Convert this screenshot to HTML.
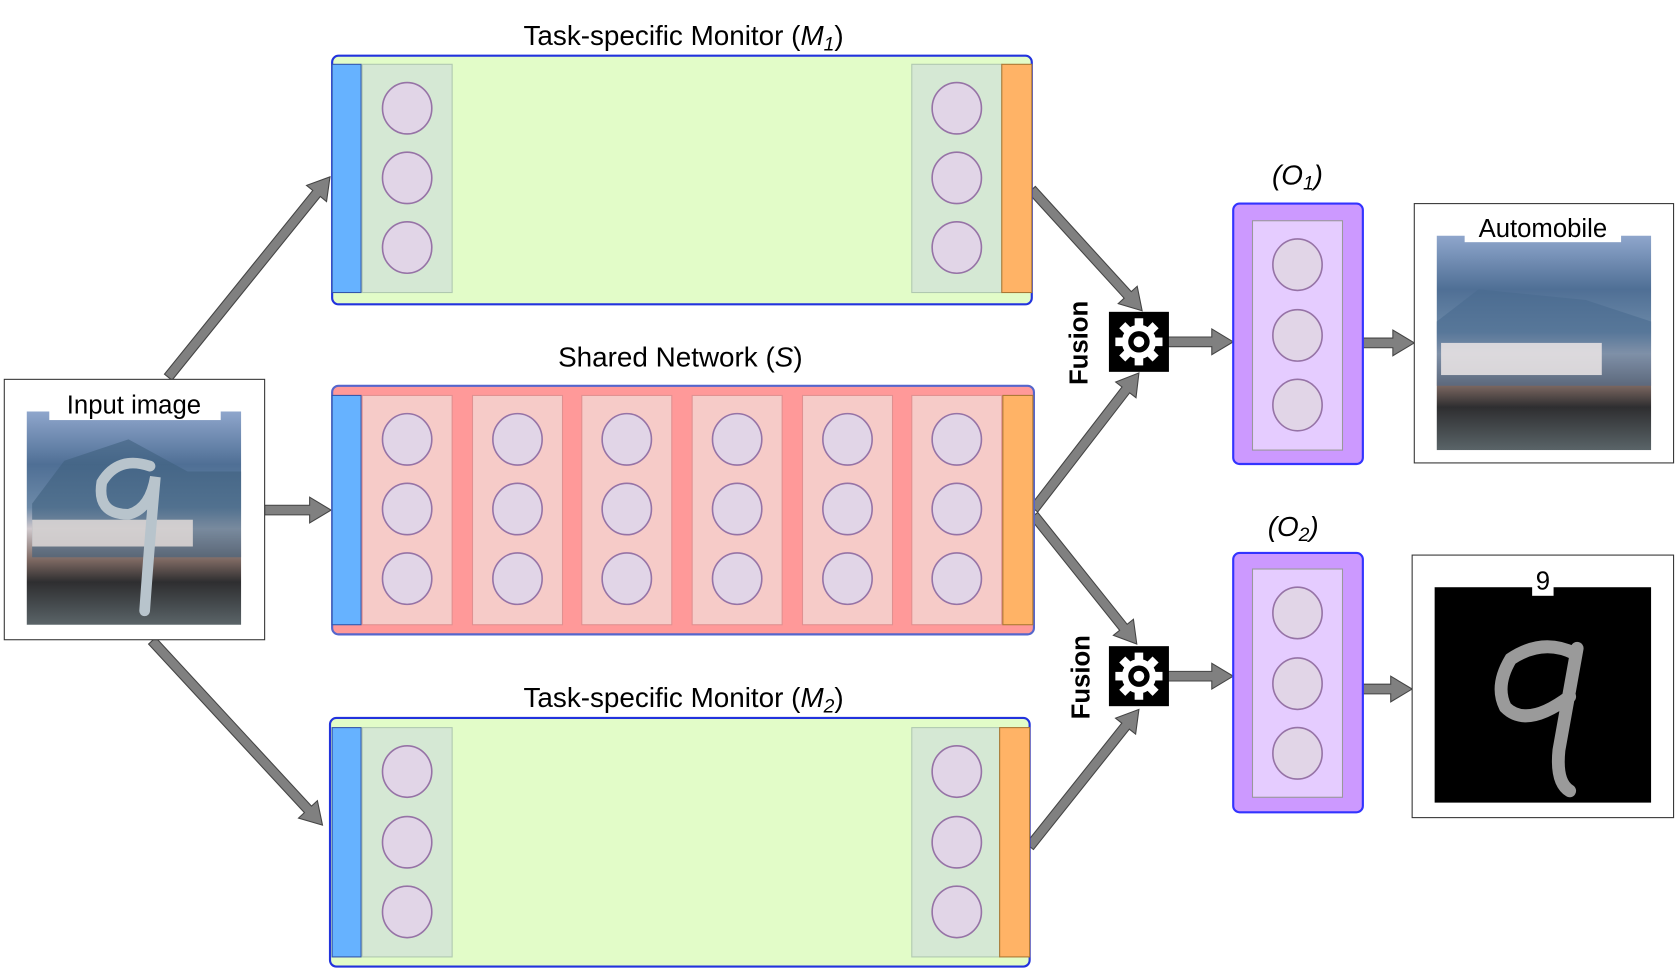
<!DOCTYPE html>
<html><head><meta charset="utf-8"><style>
html,body{margin:0;padding:0;background:#fff;width:1680px;height:973px;overflow:hidden}
svg text{font-family:"Liberation Sans",sans-serif;fill:#000}
</style></head><body>
<svg id="s" width="1680" height="973" viewBox="0 0 1568 908" preserveAspectRatio="none" xmlns="http://www.w3.org/2000/svg">
<defs>
<linearGradient id="car" x1="0" y1="0" x2="0" y2="1">
<stop offset="0" stop-color="#8fa6cc"/><stop offset="0.25" stop-color="#4f6f95"/><stop offset="0.45" stop-color="#6d8aa8"/><stop offset="0.55" stop-color="#cfc8cc"/><stop offset="0.7" stop-color="#7a6660"/><stop offset="0.8" stop-color="#2e2e30"/><stop offset="1" stop-color="#5a6468"/>
</linearGradient>
</defs>
<g id="arrows"></g>

<rect x="310" y="52" width="653" height="232" rx="6" fill="#e2fcc8" stroke="#2233dd" stroke-width="2"/>
<rect x="310" y="60" width="27" height="213" fill="#66b2ff" stroke="#3355aa"/>
<rect x="338" y="60" width="84" height="213" fill="#d5e8d4" stroke="#b0c8b0"/>
<rect x="851" y="60" width="84" height="213" fill="#d5e8d4" stroke="#b0c8b0"/>
<rect x="935" y="60" width="28" height="213" fill="#ffb366" stroke="#aa7733"/>
<text x="638" y="42" font-size="26" text-anchor="middle">Task-specific Monitor (<tspan font-style="italic">M</tspan><tspan font-style="italic" font-size="18" dy="5">1</tspan><tspan dy="-5">)</tspan></text>

<rect x="310" y="360" width="655" height="232" rx="6" fill="#ff9999" stroke="#5566cc" stroke-width="2"/>
<rect x="310" y="369" width="27" height="214" fill="#66b2ff" stroke="#3355aa"/>
<g fill="#f6cbc8" stroke="#e09090">
<rect x="338" y="369" width="84" height="214"/><rect x="441" y="369" width="84" height="214"/><rect x="543" y="369" width="84" height="214"/>
<rect x="646" y="369" width="84" height="214"/><rect x="749" y="369" width="84" height="214"/><rect x="851" y="369" width="84" height="214"/>
</g>
<rect x="936" y="369" width="28" height="214" fill="#ffb366" stroke="#aa7733"/>
<text x="635" y="342" font-size="26" text-anchor="middle">Shared Network (<tspan font-style="italic">S</tspan>)</text>

<rect x="308" y="670" width="653" height="232" rx="6" fill="#e2fcc8" stroke="#2233dd" stroke-width="2"/>
<rect x="310" y="679" width="27" height="214" fill="#66b2ff" stroke="#3355aa"/>
<rect x="338" y="679" width="84" height="214" fill="#d5e8d4" stroke="#b0c8b0"/>
<rect x="851" y="679" width="82" height="214" fill="#d5e8d4" stroke="#b0c8b0"/>
<rect x="933" y="679" width="28" height="214" fill="#ffb366" stroke="#aa7733"/>
<text x="638" y="660" font-size="26" text-anchor="middle">Task-specific Monitor (<tspan font-style="italic">M</tspan><tspan font-style="italic" font-size="18" dy="5">2</tspan><tspan dy="-5">)</tspan></text>

<rect x="1151" y="190" width="121" height="243" rx="6" fill="#cc99ff" stroke="#3333ff" stroke-width="2"/>
<rect x="1169" y="206" width="84" height="214" fill="#e5ccff" stroke="#999"/>
<rect x="1151" y="516" width="121" height="242" rx="6" fill="#cc99ff" stroke="#3333ff" stroke-width="2"/>
<rect x="1169" y="531" width="84" height="213" fill="#e5ccff" stroke="#999"/>
<text x="1211" y="172" font-size="26" text-anchor="middle" font-style="italic">(O<tspan font-size="18" dy="5">1</tspan><tspan dy="-5">)</tspan></text>
<text x="1207" y="500" font-size="26" text-anchor="middle" font-style="italic">(O<tspan font-size="18" dy="5">2</tspan><tspan dy="-5">)</tspan></text>

<g id="circles" fill="#e1d5e7" stroke="#9673a6" stroke-width="1.5"></g>

<rect x="4" y="354" width="243" height="243" fill="#fff" stroke="#333"/>
<rect x="25" y="384" width="200" height="199" fill="url(#car)"/>
<path d="M60 430 L120 410 L175 440 L225 440 L225 520 L30 520 L30 470 Z" fill="#3f607f" opacity="0.6"/>
<rect x="30" y="485" width="150" height="25" fill="#e8e0dc" opacity="0.8"/>
<path d="M140 435 Q110 425 95 450 Q90 480 120 480 Q140 475 145 445 Q140 500 135 570" stroke="#b8c4cc" stroke-width="10" fill="none" stroke-linecap="round"/>
<rect x="46" y="366" width="160" height="26" fill="#fff"/>
<text x="125" y="386" font-size="24" text-anchor="middle">Input image</text>

<rect x="1320" y="190" width="242" height="242" fill="#fff" stroke="#333"/>
<rect x="1341" y="220" width="200" height="200" fill="url(#car)"/>
<path d="M1341 300 L1380 270 L1480 280 L1541 300 L1541 360 L1341 360 Z" fill="#4a6a90" opacity="0.6"/>
<rect x="1345" y="320" width="150" height="30" fill="#ece6e6" opacity="0.85"/>
<rect x="1367" y="200" width="146" height="26" fill="#fff"/>
<text x="1440" y="221" font-size="24" text-anchor="middle">Automobile</text>

<rect x="1318" y="518" width="244" height="245" fill="#fff" stroke="#333"/>
<rect x="1339" y="548" width="202" height="201" fill="#000"/>
<path d="M1470 610 Q1440 595 1410 615 Q1395 640 1405 660 Q1425 680 1465 650 M1472 605 Q1462 660 1455 700 Q1452 730 1465 738" stroke="#9a9a9a" stroke-width="12" fill="none" stroke-linecap="round"/>
<rect x="1430" y="528" width="20" height="28" fill="#fff"/>
<text x="1440" y="550" font-size="24" text-anchor="middle">9</text>

<g id="fus"></g>
<text transform="translate(1015,320) rotate(-90)" font-size="24" font-weight="bold" text-anchor="middle">Fusion</text>
<text transform="translate(1017,632) rotate(-90)" font-size="24" font-weight="bold" text-anchor="middle">Fusion</text>
</svg>
<script>
var NS="http://www.w3.org/2000/svg";
function el(p,t,a){var e=document.createElementNS(NS,t);for(var k in a)e.setAttribute(k,a[k]);p.appendChild(e);return e;}
var A=document.getElementById("arrows");
function arrow(x1,y1,x2,y2){var dx=x2-x1,dy=y2-y1,L=Math.hypot(dx,dy),ux=dx/L,uy=dy/L,nx=-uy,ny=ux;
var s=4.5,h=12,hl=20,bx=x2-ux*hl,by=y2-uy*hl;
var p=[[x1+nx*s,y1+ny*s],[bx+nx*s,by+ny*s],[bx+nx*h,by+ny*h],[x2,y2],[bx-nx*h,by-ny*h],[bx-nx*s,by-ny*s],[x1-nx*s,y1-ny*s]];
el(A,"polygon",{points:p.map(function(q){return q.join(",")}).join(" "),fill:"#808080",stroke:"#444","stroke-width":1});}
arrow(157,352,308,165);arrow(247,476,309,476);arrow(142,598,301,770);
arrow(963,177,1066,290);arrow(965,475,1063,348);arrow(965,481,1061,601);arrow(961,790,1063,662);
arrow(1090,319,1151,319);arrow(1090,631,1151,631);arrow(1272,320,1320,320);arrow(1272,643,1318,643);
var C=document.getElementById("circles");
function col(x,ys){ys.forEach(function(y){el(C,"ellipse",{cx:x,cy:y,rx:23,ry:24});});}
[380,893].forEach(function(x){col(x,[101,166,231]);col(x,[720,786,851]);});
[380,483,585,688,791,893].forEach(function(x){col(x,[410,475,540]);});
col(1211,[247,313,378]);col(1211,[572,638,703]);
var F=document.getElementById("fus");
[[1063,319],[1063,631]].forEach(function(c){var x=c[0],y=c[1];
el(F,"rect",{x:x-28,y:y-28,width:56,height:56,fill:"#000"});
for(var i=0;i<8;i++){el(F,"rect",{x:x-4,y:y-22,width:8,height:10,fill:"#fff",transform:"rotate("+(i*45)+" "+x+" "+y+")"});}
el(F,"circle",{cx:x,cy:y,r:16,fill:"#fff"});el(F,"circle",{cx:x,cy:y,r:10,fill:"#000"});el(F,"circle",{cx:x,cy:y,r:5,fill:"#fff"});});
</script>
</body></html>
